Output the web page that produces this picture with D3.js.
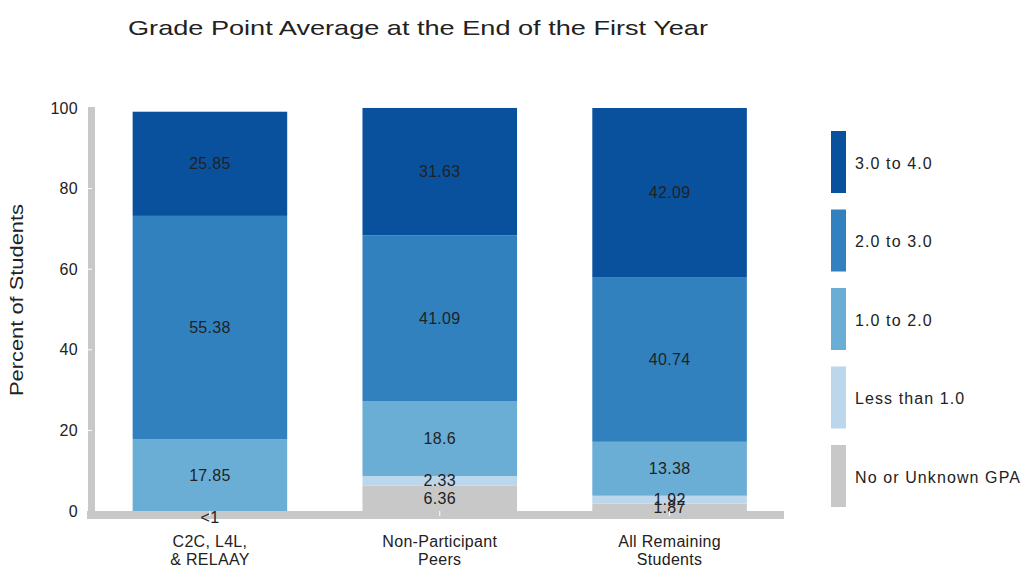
<!DOCTYPE html>
<html>
<head>
<meta charset="utf-8">
<script src="https://cdn.jsdelivr.net/npm/d3@7/dist/d3.min.js"></script>
<style>
  html, body { margin: 0; padding: 0; background: #fff; }
  svg { display: block; }
  text { font-family: "Liberation Sans", Arial, Helvetica, sans-serif; fill: #222; }
</style>
</head>
<body>
<svg id="chart" width="1026" height="567"></svg>
<script>
// ---- data ----
const categories = ["C2C, L4L,\n& RELAAY", "Non-Participant\nPeers", "All Remaining\nStudents"];
const seriesNames = ["No or Unknown GPA", "Less than 1.0", "1.0 to 2.0", "2.0 to 3.0", "3.0 to 4.0"];
const noGPA      = [0,    6.36, 1.87];
const lessThan1  = [0,    2.33, 1.92];
const gpa1to2    = [17.85, 18.6, 13.38];
const gpa2to3    = [55.38, 41.09, 40.74];
const gpa3to4    = [25.85, 31.63, 42.09];
const labelNoGPA     = ["<1", "6.36", "1.87"];
const labelLessThan1 = ["",   "2.33", "1.92"];
const labelGpa1to2   = ["17.85", "18.6", "13.38"];
const labelGpa2to3   = ["55.38", "41.09", "40.74"];
const labelGpa3to4   = ["25.85", "31.63", "42.09"];
const yTicks = [0, 20, 40, 60, 80, 100];
const colors = ["#c8c8c8", "#bcd6ec", "#6aaed6", "#3181bf", "#0a519d"];

const seriesValues = [noGPA, lessThan1, gpa1to2, gpa2to3, gpa3to4];
const seriesLabels = [labelNoGPA, labelLessThan1, labelGpa1to2, labelGpa2to3, labelGpa3to4];

const svg = d3.select("#chart");

const x = d3.scaleBand().domain(categories).range([95, 784.5])
  .paddingInner(0.3275).paddingOuter(0.16375);
const y = d3.scaleLinear().domain([0, 100]).range([511, 108]);

// title
svg.append("text").attr("x", 128).attr("y", 35)
  .attr("font-size", 21).attr("textLength", 580).attr("lengthAdjust", "spacingAndGlyphs")
  .text("Grade Point Average at the End of the First Year");

// stacked data
const rows = categories.map((c, i) => {
  const r = { cat: c };
  seriesNames.forEach((s, k) => r[s] = seriesValues[k][i]);
  return r;
});
const stacked = d3.stack().keys(seriesNames)(rows);

// axis bands (gray)
svg.append("rect").attr("x", 88).attr("y", 107).attr("width", 7).attr("height", 412).attr("fill", "#c8c8c8");
svg.append("rect").attr("x", 87).attr("y", y(0)).attr("width", 697).attr("height", 8).attr("fill", "#c8c8c8");

// bars
const layer = svg.append("g");
stacked.forEach((ser, k) => {
  layer.selectAll(null).data(ser).enter().append("rect")
    .attr("x", d => x(d.data.cat))
    .attr("width", x.bandwidth())
    .attr("y", d => y(d[1]))
    .attr("height", d => Math.max(0, y(d[0]) - y(d[1])))
    .attr("fill", colors[k]);
});

// value labels
stacked.forEach((ser, k) => {
  layer.selectAll(null).data(ser).enter().append("text")
    .attr("x", d => x(d.data.cat) + x.bandwidth() / 2)
    .attr("y", d => {
      const mid = (y(d[0]) + y(d[1])) / 2;
      return (d[1] - d[0] < 0.5) ? mid + 6 : mid;
    })
    .attr("text-anchor", "middle").attr("dominant-baseline", "central")
    .attr("font-size", 16).attr("letter-spacing", 0.3)
    .text((d, i) => seriesLabels[k][i]);
});

// y axis
const yAxis = d3.axisLeft(y).tickValues(yTicks).tickSize(0).tickPadding(0);
const yg = svg.append("g").attr("transform", "translate(78,0)").call(yAxis);
yg.select(".domain").remove();
yg.selectAll("text").attr("font-size", 16).attr("letter-spacing", 0.3)
  .style("font-family", '"Liberation Sans", Arial, sans-serif').attr("fill", "#222").attr("dx", 0);
// white tick marks on y band
svg.append("g").selectAll("line").data(yTicks.filter(t => t > 0 && t < 100)).enter().append("line")
  .attr("x1", 88).attr("x2", 92).attr("y1", d => y(d)).attr("y2", d => y(d))
  .attr("stroke", "#fff").attr("stroke-width", 1);

// x axis labels
const xAxis = d3.axisBottom(x).tickSize(0).tickPadding(0).tickFormat("");
const xg = svg.append("g").attr("transform", `translate(0,${y(0)})`).call(xAxis);
xg.select(".domain").remove();
xg.selectAll(".tick").append("line").attr("y1", 0).attr("y2", 5).attr("stroke", "#fff");
xg.selectAll(".tick").each(function(d) {
  const t = d3.select(this).append("text").attr("text-anchor", "middle")
    .attr("font-size", 16).attr("letter-spacing", 0.3).attr("fill", "#222");
  d.split("\n").forEach((line, i) => {
    t.append("tspan").attr("x", 0).attr("y", 36 + i * 18).text(line);
  });
});

// y axis title
svg.append("text").attr("transform", "translate(23,300) rotate(-90)")
  .attr("text-anchor", "middle").attr("font-size", 18)
  .attr("textLength", 192).attr("lengthAdjust", "spacingAndGlyphs")
  .text("Percent of Students");

// legend
const legendOrder = seriesNames.slice().reverse();
const lg = svg.append("g");
legendOrder.forEach((name, i) => {
  const k = seriesNames.indexOf(name);
  const top = 131 + i * 78.5;
  lg.append("rect").attr("x", 831).attr("y", top).attr("width", 15).attr("height", 62).attr("fill", colors[k]);
  lg.append("text").attr("x", 855).attr("y", top + 32).attr("dominant-baseline", "central")
    .attr("font-size", 16).attr("letter-spacing", 1.1).text(name);
});
</script>
</body>
</html>
